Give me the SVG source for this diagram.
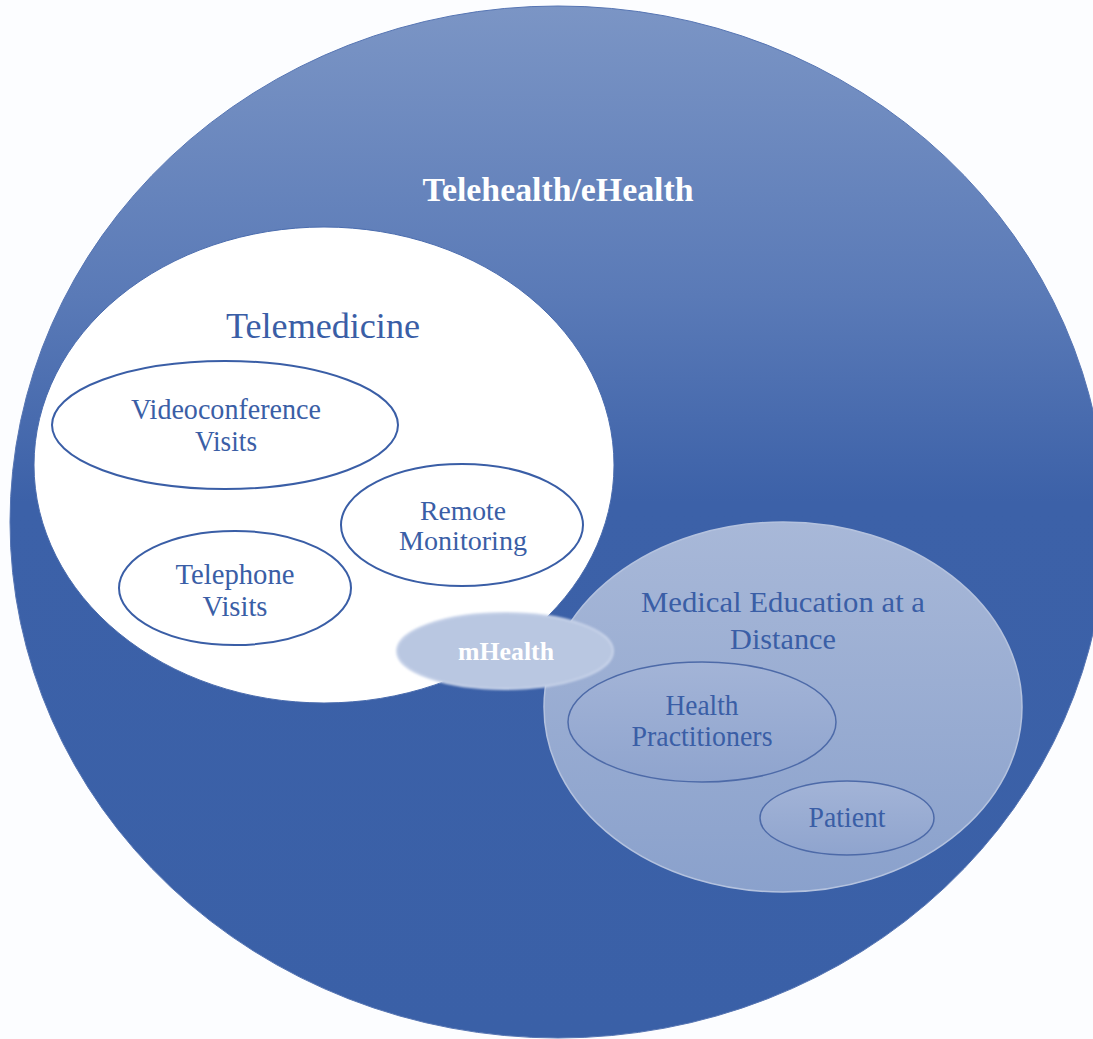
<svg xmlns="http://www.w3.org/2000/svg" width="1093" height="1039" viewBox="0 0 1093 1039">
  <style>
    .lbl { font-family: "Liberation Serif", "Times New Roman", serif; fill: #3a5ea6; text-anchor: middle; }
    .sub { fill: none; stroke: #3a5ea6; stroke-width: 2; }
    .edu { fill: url(#eduInner); stroke: #4d6aa8; stroke-width: 1.5; }
  </style>
  <defs>
    <linearGradient id="bigGrad" gradientUnits="userSpaceOnUse" x1="0" y1="7" x2="0" y2="1038">
      <stop offset="0" stop-color="#7b95c5"/>
      <stop offset="0.28" stop-color="#5a7ab7"/>
      <stop offset="0.48" stop-color="#3c61a8"/>
      <stop offset="1" stop-color="#3a60a7"/>
    </linearGradient>
    <linearGradient id="eduGrad" x1="0" y1="0" x2="0" y2="1">
      <stop offset="0" stop-color="#a8b8d8"/>
      <stop offset="1" stop-color="#8aa1cc"/>
    </linearGradient>
    <linearGradient id="eduInner" x1="0" y1="0" x2="0" y2="1">
      <stop offset="0" stop-color="#a3b4d7"/>
      <stop offset="1" stop-color="#8fa4ce"/>
    </linearGradient>
    <filter id="soft" x="-5%" y="-5%" width="110%" height="110%">
      <feGaussianBlur stdDeviation="1.2"/>
    </filter>
  </defs>
  <rect width="1093" height="1039" fill="#fcfdff"/>

  <g id="telehealth">
    <ellipse cx="558" cy="522" rx="548" ry="516" fill="url(#bigGrad)" stroke="#5675b3" stroke-width="1"/>
    <text x="558" y="201" font-family="Liberation Serif, Times New Roman, serif" font-weight="bold" font-size="33" fill="#ffffff" text-anchor="middle" textLength="271" lengthAdjust="spacingAndGlyphs">Telehealth/eHealth</text>
  </g>

  <g id="telemedicine">
    <ellipse cx="324" cy="465" rx="290" ry="238" fill="#ffffff" stroke="#4a6cae" stroke-width="1"/>
    <text class="lbl" x="323" y="338" font-size="35" textLength="194" lengthAdjust="spacingAndGlyphs">Telemedicine</text>
  </g>

  <g id="videoconference">
    <ellipse class="sub" cx="225" cy="425" rx="173" ry="64"/>
    <text class="lbl" x="226" y="419" font-size="29" textLength="190" lengthAdjust="spacingAndGlyphs">Videoconference</text>
    <text class="lbl" x="226" y="451" font-size="29" textLength="62" lengthAdjust="spacingAndGlyphs">Visits</text>
  </g>

  <g id="telephone">
    <ellipse class="sub" cx="235" cy="588" rx="116" ry="57"/>
    <text class="lbl" x="235" y="584" font-size="29" textLength="119" lengthAdjust="spacingAndGlyphs">Telephone</text>
    <text class="lbl" x="235" y="616" font-size="29" textLength="65" lengthAdjust="spacingAndGlyphs">Visits</text>
  </g>

  <g id="remote-monitoring">
    <ellipse class="sub" cx="462" cy="525" rx="121" ry="61"/>
    <text class="lbl" x="463" y="520" font-size="28" textLength="86" lengthAdjust="spacingAndGlyphs">Remote</text>
    <text class="lbl" x="463" y="550" font-size="28" textLength="128" lengthAdjust="spacingAndGlyphs">Monitoring</text>
  </g>

  <g id="medical-education">
    <ellipse cx="783" cy="707" rx="239" ry="185" fill="url(#eduGrad)" stroke="#b4c2de" stroke-width="1.5"/>
    <text class="lbl" x="783" y="612" font-size="29" fill="#4565a8" textLength="284" lengthAdjust="spacingAndGlyphs">Medical Education at a</text>
    <text class="lbl" x="783" y="649" font-size="29" fill="#4565a8" textLength="106" lengthAdjust="spacingAndGlyphs">Distance</text>
  </g>

  <g id="health-practitioners">
    <ellipse class="edu" cx="702" cy="722" rx="134" ry="60"/>
    <text class="lbl" x="702" y="715" font-size="29" fill="#4565a8" textLength="73" lengthAdjust="spacingAndGlyphs">Health</text>
    <text class="lbl" x="702" y="746" font-size="29" fill="#4565a8" textLength="141" lengthAdjust="spacingAndGlyphs">Practitioners</text>
  </g>

  <g id="patient">
    <ellipse class="edu" cx="847" cy="818" rx="87" ry="37"/>
    <text class="lbl" x="847" y="827" font-size="29" fill="#4565a8" textLength="77" lengthAdjust="spacingAndGlyphs">Patient</text>
  </g>

  <g id="mhealth">
    <ellipse cx="505" cy="651" rx="108" ry="38" fill="#b9c7e1" stroke="#c9d4ea" stroke-width="2" filter="url(#soft)"/>
    <text x="506" y="660" font-family="Liberation Serif, Times New Roman, serif" font-weight="bold" font-size="25" fill="#ffffff" text-anchor="middle" textLength="96" lengthAdjust="spacingAndGlyphs">mHealth</text>
  </g>

  <g id="connectors"></g>
</svg>
